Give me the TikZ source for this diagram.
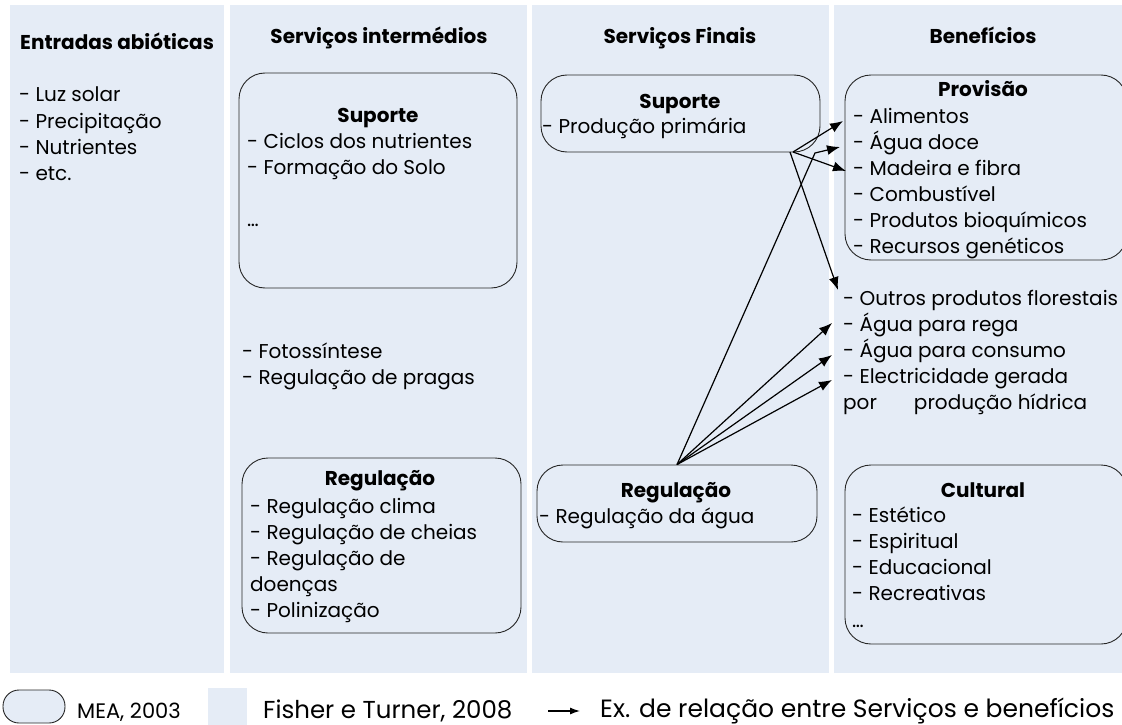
\documentclass[tikz,border=0pt]{standalone}
\usepackage{fontspec}
\setmainfont{Poppins}
\usetikzlibrary{arrows.meta}
\definecolor{fundo}{RGB}{229,236,246}

\begin{document}
\begin{tikzpicture}[
    x = 1pt, y = -1pt,
    every node/.style = {inner sep = 0pt},
    caixa/.style = {draw = black!85, line width = 0.9pt, rounded corners = 26pt},
    titulo/.style = {font = \fontsize{20}{22}\selectfont\bfseries, anchor = base},
    item/.style = {font = \fontsize{20}{22}\selectfont, anchor = base west},
    rel/.style = {line width = 1.2pt, -{Latex[length = 13pt, width = 10pt]}}]

  \useasboundingbox (0,0) rectangle (1122,725);

  % colunas (Fisher e Turner)
  \fill[fundo] (10,5) rectangle (224,673);
  \fill[fundo] (230,5) rectangle (527,673);
  \fill[fundo] (532,5) rectangle (829,673);
  \fill[fundo] (834,5) rectangle (1122,673);

  \node[titulo, anchor = base west] (h1) at (20,50) {Entradas abióticas};
  \node[titulo] (h2) at (379,44) {Serviços intermédios};
  \node[titulo] (h3) at (680,44) {Serviços Finais};
  \node[titulo] (h4) at (983,44) {Benefícios};

  % entradas
  \foreach \t [count=\i] in {Luz solar,Precipitação,Nutrientes,etc.}
    \node[item] (ent\i) at (19,{76+26*\i}) {- \t};

  % servicos intermedios
  \node[caixa, minimum width = 278pt, minimum height = 215pt] (supI) at (378,180.5) {};
  \node[titulo] (supIt) at (378,122) {Suporte};
  \foreach \t [count=\i] in {Ciclos dos nutrientes,Formação do Solo}
    \node[item] (supI\i) at (247,{122+26*\i}) {- \t};
  \node[item] (supI3) at (247,226) {\dots};

  \node[item] (foto) at (242,358) {- Fotossíntese};
  \node[item] (prag) at (242,384) {- Regulação de pragas};

  \node[caixa, minimum width = 279pt, minimum height = 175pt] (regI) at (381.5,545.5) {};
  \node[titulo] (regIt) at (380,485) {Regulação};
  \foreach \t [count=\i] in {- Regulação clima,- Regulação de cheias,- Regulação de,doenças,- Polinização}
    \node[item] (regI\i) at (250,{487+26*\i}) {\t};

  % servicos finais
  \node[caixa, minimum width = 279pt, minimum height = 77pt] (supF) at (680.5,113.5) {};
  \node[titulo] (supFt) at (680,108) {Suporte};
  \node[item] (supF1) at (542,133) {- Produção primária};

  \node[caixa, minimum width = 280pt, minimum height = 77pt] (regF) at (677,503.5) {};
  \node[titulo] (regFt) at (676,497) {Regulação};
  \node[item] (regF1) at (539,523) {- Regulação da água};

  % beneficios
  \node[caixa, minimum width = 282pt, minimum height = 185pt] (prov) at (986,167.5) {};
  \node[titulo] (provt) at (983,96) {Provisão};
  \foreach \t [count=\i] in {Alimentos,Água doce,Madeira e fibra,Combustível,Produtos bioquímicos,Recursos genéticos}
    \node[item] (prov\i) at (853,{97+26*\i}) {- \t};

  \foreach \t [count=\i] in {Outros produtos florestais,Água para rega,Água para consumo,Electricidade gerada}
    \node[item] (out\i) at (843,{279+26*\i}) {- \t};
  \node[item] (out5) at (843,409) {por\hspace{37pt}produção hídrica};

  \node[caixa, minimum width = 282pt, minimum height = 179pt] (cult) at (986,554.5) {};
  \node[titulo] (cultt) at (983,497) {Cultural};
  \foreach \t [count=\i] in {Estético,Espiritual,Educacional,Recreativas}
    \node[item] (cult\i) at (852,{496+26*\i}) {- \t};
  \node[item] (cult5) at (852,627) {\dots};

  % relacoes
  \coordinate (sfa) at (793,152);
  \coordinate (sfb) at (790,152);
  \coordinate (dobra) at (815,153);
  \coordinate (pAlim) at (843,121);
  \coordinate (pDoce) at (840,147);
  \coordinate (pMad) at (846,171);
  \coordinate (pOut) at (838,290);
  \coordinate (pRega) at (832,323);
  \coordinate (pCons) at (832,355);
  \coordinate (pElec) at (832,380);

  \draw[rel] (sfa) -- (pAlim);
  \draw[rel] (sfa) -- (pMad);
  \draw[rel] (sfb) -- (pOut);
  \draw[rel] (regF.north) -- (dobra) -- (pDoce);
  \draw[rel] (regF.north) -- (pRega);
  \draw[rel] (regF.north) -- (pCons);
  \draw[rel] (regF.north) -- (pElec);

  % legenda
  \node[caixa, fill = fundo, rounded corners = 16pt, minimum width = 62pt, minimum height = 33pt] (lmea) at (34,706.5) {};
  \node[item, font = \fontsize{21}{22}\selectfont] (tmea) at (77,718) {MEA, 2003};
  \node[fill = fundo, minimum width = 39pt, minimum height = 37pt] (lft) at (227.5,706.5) {};
  \node[item, font = \fontsize{24.5}{28}\selectfont] (tft) at (263,718) {Fisher e Turner, 2008};
  \coordinate (la) at (548,711);
  \coordinate (lb) at (580,711);
  \draw[rel, -{Latex[length = 10pt, width = 7pt]}] (la) -- (lb);
  \node[item, font = \fontsize{25}{28}\selectfont] (tex) at (600,717) {Ex. de relação entre Serviços e benefícios};
\end{tikzpicture}
\end{document}
